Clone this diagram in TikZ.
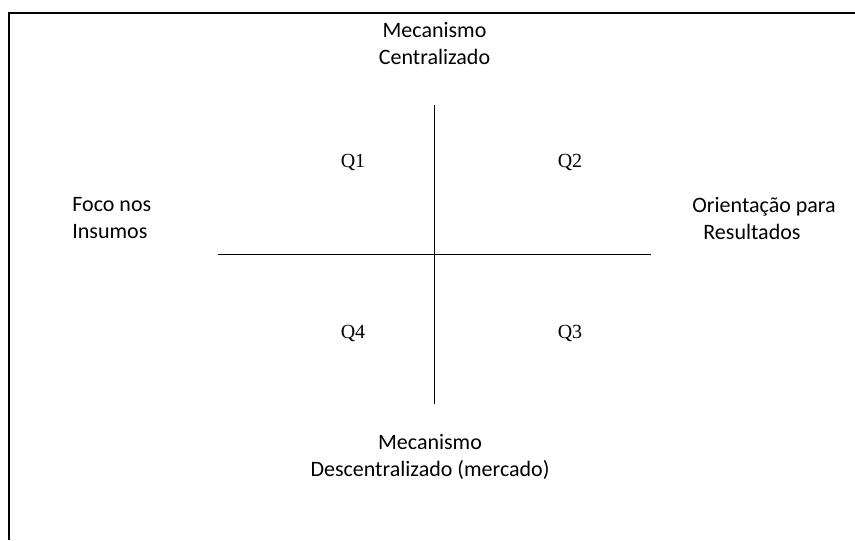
\documentclass[tikz,border=0pt]{standalone}
\usepackage{fontspec}
\setmainfont{Carlito}
\newfontfamily\quadfont{Liberation Serif}

\begin{document}
\begin{tikzpicture}[x=0.5pt, y=-0.5pt,
  axislabel/.style={font=\fontsize{11}{13.5}\selectfont},
  quadrant/.style={font=\quadfont\fontsize{10}{12}\selectfont},
  axis/.style={line width=0.75pt}]
\useasboundingbox (0,0) rectangle (855,540);

% frame (only top and left edges show)
\coordinate (TL) at (9,13);
\coordinate (TR) at (855,13);
\coordinate (BL) at (9,540);
\draw [line width=1pt] (TR) -- (TL) -- (BL);

% axes
\coordinate (N) at (434.5,105);
\coordinate (S) at (434.5,404);
\coordinate (W) at (218,254.5);
\coordinate (E) at (651,254.5);
\draw [axis] (N) -- (S);
\draw [axis] (W) -- (E);

% axis labels
\node (top) at (434.5,44) [axislabel, align=center] {Mecanismo\\Centralizado};
\node (bottom) at (430,457) [axislabel, align=center] {Mecanismo\\Descentralizado (mercado)};
\node (left) at (72,218) [axislabel, align=left, anchor=west, inner xsep=0pt] {Foco nos\\Insumos};
\node (right) at (692,219) [axislabel, align=left, anchor=west, inner xsep=0pt] {Orientação para\\\hspace*{5.5pt}Resultados};

% quadrants
\node (Q1) at (353,162) [quadrant] {Q1};
\node (Q2) at (570,162) [quadrant] {Q2};
\node (Q3) at (570,333) [quadrant] {Q3};
\node (Q4) at (353,333) [quadrant] {Q4};
\end{tikzpicture}
\end{document}
